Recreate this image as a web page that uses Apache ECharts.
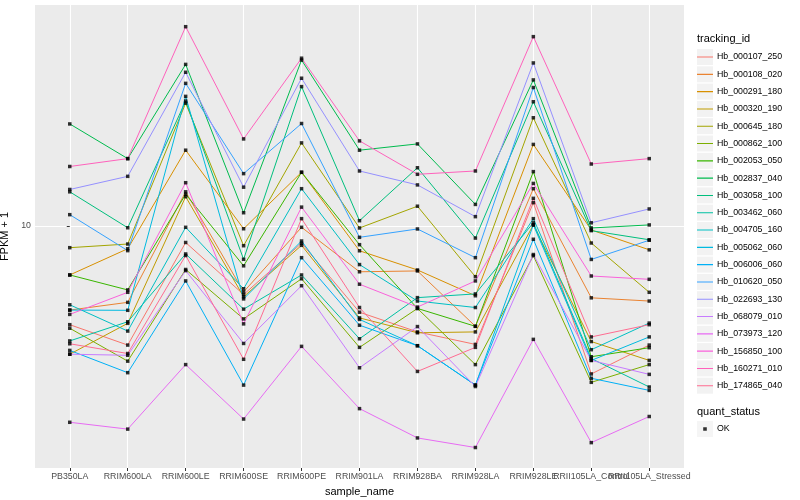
<!DOCTYPE html>
<html><head><meta charset="utf-8">
<script src="https://cdn.jsdelivr.net/npm/echarts@6/dist/echarts.min.js"></script>
<style>html,body{margin:0;padding:0;background:#fff}#c{width:800px;height:500px}</style>
</head><body><div id="c"></div>
<script>
const categories = ['PB350LA','RRIM600LA','RRIM600LE','RRIM600SE','RRIM600PE','RRIM901LA','RRIM928BA','RRIM928LA','RRIM928LE','RRII105LA_Control','RRII105LA_Stressed'];
const yTicks = [10];
const Hb_000107_250 = [4.03, 3.34, 8.59, 5.32, 8.53, 4.52, 3.77, 3.36, 12.4, 2.56, 3.34];
const Hb_000108_020 = [4.61, 4.95, 13.7, 5.45, 9.88, 6.56, 6.61, 3.97, 14.1, 5.16, 5.01];
const Hb_000291_180 = [6.37, 8.11, 20.1, 9.75, 16.4, 7.96, 6.67, 5.26, 21.2, 9.64, 8.03];
const Hb_000320_190 = [3.07, 4.08, 13.1, 5.21, 8.37, 4.29, 3.74, 3.77, 10.1, 3.45, 2.90];
const Hb_000645_180 = [8.19, 8.47, 31.0, 8.34, 21.5, 9.82, 12.0, 6.27, 27.1, 8.55, 5.43];
const Hb_000862_100 = [3.90, 2.88, 6.70, 4.25, 6.15, 3.27, 4.68, 2.79, 7.61, 2.37, 2.79];
const Hb_002053_050 = [6.37, 5.55, 13.4, 6.93, 16.4, 8.42, 4.68, 3.97, 16.5, 3.00, 3.26];
const Hb_002837_040 = [25.6, 18.6, 44.3, 11.3, 46.1, 20.1, 21.3, 12.2, 38.4, 9.82, 10.1];
const Hb_003058_100 = [13.7, 9.84, 31.6, 7.36, 36.1, 10.5, 17.1, 8.95, 31.4, 9.58, 8.81];
const Hb_003462_060 = [3.47, 4.14, 7.73, 4.65, 6.37, 3.54, 5.17, 5.35, 10.3, 2.95, 2.27];
const Hb_004705_160 = [4.84, 3.80, 9.88, 5.61, 14.1, 7.01, 5.01, 4.72, 10.7, 3.20, 4.09];
const Hb_005062_060 = [4.61, 4.60, 33.0, 5.11, 8.71, 4.23, 3.32, 2.31, 10.1, 2.90, 3.60];
const Hb_006006_060 = [3.18, 2.59, 6.03, 2.31, 7.47, 4.01, 3.32, 2.31, 8.85, 2.46, 2.20];
const Hb_010620_050 = [11.1, 7.97, 37.2, 16.2, 25.7, 9.01, 9.73, 7.47, 35.8, 7.35, 8.77];
const Hb_022693_130 = [14.0, 15.8, 41.2, 14.3, 39.0, 16.6, 14.6, 10.9, 44.9, 10.3, 11.7];
const Hb_068079_010 = [3.07, 3.04, 6.63, 3.39, 5.77, 2.71, 3.96, 2.28, 7.69, 2.90, 2.55];
const Hb_073973_120 = [1.64, 1.54, 2.79, 1.69, 3.30, 1.86, 1.42, 1.30, 3.52, 1.36, 1.73];
const Hb_156850_100 = [4.43, 5.43, 14.9, 4.06, 11.9, 5.85, 4.74, 6.03, 14.8, 6.31, 6.12];
const Hb_160271_010 = [17.3, 18.6, 62.7, 22.3, 46.9, 21.9, 16.1, 16.6, 57.2, 17.7, 18.6];
const Hb_174865_040 = [3.38, 3.09, 7.62, 2.93, 10.7, 4.72, 2.62, 3.27, 12.9, 3.60, 4.03];

const trackingIds = ['Hb_000107_250','Hb_000108_020','Hb_000291_180','Hb_000320_190','Hb_000645_180','Hb_000862_100','Hb_002053_050','Hb_002837_040','Hb_003058_100','Hb_003462_060','Hb_004705_160','Hb_005062_060','Hb_006006_060','Hb_010620_050','Hb_022693_130','Hb_068079_010','Hb_073973_120','Hb_156850_100','Hb_160271_010','Hb_174865_040'];
const seriesValues = [Hb_000107_250,Hb_000108_020,Hb_000291_180,Hb_000320_190,Hb_000645_180,Hb_000862_100,Hb_002053_050,Hb_002837_040,Hb_003058_100,Hb_003462_060,Hb_004705_160,Hb_005062_060,Hb_006006_060,Hb_010620_050,Hb_022693_130,Hb_068079_010,Hb_073973_120,Hb_156850_100,Hb_160271_010,Hb_174865_040];
const quantStatus = ['OK'];

const colors = ['#F8766D','#EA8331','#D89000','#C09B00','#A3A500','#7CAE00','#39B600','#00BB4E','#00BF7D','#00C1A3','#00BFC4','#00BAE0','#00B0F6','#35A2FF','#9590FF','#C77CFF','#E76BF3','#FA62DB','#FF62BC','#FF6C91'];
const FONT = '"Liberation Sans", Arial, sans-serif';

const chart = echarts.init(document.getElementById('c'), null, {renderer: 'canvas'});

const series = trackingIds.map((name, k) => ({
  name: name,
  type: 'line',
  data: seriesValues[k].map((v, i) => [i, v]),
  showSymbol: false,
  symbol: 'none',
  lineStyle: {width: 1, color: colors[k]},
  itemStyle: {color: colors[k]},
  z: 2,
  silent: true,
  animation: false
}));
const points = [];
seriesValues.forEach(arr => arr.forEach((v, i) => points.push([i, v])));
series.push({
  name: quantStatus[0],
  type: 'scatter',
  data: points,
  symbol: 'rect',
  symbolSize: 3.5,
  itemStyle: {color: '#000'},
  z: 3,
  silent: true,
  animation: false
});

const lineIcon = 'path://M0,0 L0.01,0 Z M0,7.5 L16,7.5 L16,8.6 L0,8.6 Z M0,16 L0.01,16 Z';
const dotIcon = 'path://M0,0 L0.01,0 Z M6.2,6.2 L9.8,6.2 L9.8,9.8 L6.2,9.8 Z M16,16 L15.99,16 Z';

const legendBase = {orient: 'vertical', left: 697, itemWidth: 16, itemHeight: 16, itemGap: 1.3, selectedMode: false, padding: 0};
const allIdx = categories.map((c, i) => i);
const labelStyle = {fontSize: 8.8, color: '#4D4D4D', fontFamily: FONT, margin: 4, hideOverlap: false, showMinLabel: true, showMaxLabel: true, formatter: v => categories[Math.round(v)]};

chart.setOption({
  animation: false,
  backgroundColor: '#fff',
  title: [
    {text: 'tracking_id', left: 697, top: 33, padding: 0, textStyle: {fontSize: 11, fontWeight: 'normal', color: '#000', fontFamily: FONT}},
    {text: 'quant_status', left: 697, top: 406, padding: 0, textStyle: {fontSize: 11, fontWeight: 'normal', color: '#000', fontFamily: FONT}}
  ],
  grid: {left: 35, right: 116, top: 5, bottom: 32, show: true, backgroundColor: '#EBEBEB', borderWidth: 0, containLabel: false, outerBoundsMode: 'none'},
  legend: [
    Object.assign({}, legendBase, {top: 49, z: 1, icon: 'rect',
      data: trackingIds.map(n => ({name: n, itemStyle: {color: '#F2F2F2'}})),
      formatter: () => '', textStyle: {fontSize: 8.8, fontFamily: FONT}}),
    Object.assign({}, legendBase, {top: 49, z: 2, icon: lineIcon,
      data: trackingIds.map((n, k) => ({name: n, itemStyle: {color: colors[k]}})),
      textStyle: {fontSize: 8.8, color: '#000', fontFamily: FONT, padding: [0, 0, 0, -1]}}),
    Object.assign({}, legendBase, {top: 421, z: 1, icon: 'rect',
      data: quantStatus.map(n => ({name: n, itemStyle: {color: '#F2F2F2'}})),
      formatter: () => '', textStyle: {fontSize: 8.8, fontFamily: FONT}}),
    Object.assign({}, legendBase, {top: 421, z: 2, icon: dotIcon,
      data: quantStatus.map(n => ({name: n, itemStyle: {color: '#000'}})),
      textStyle: {fontSize: 8.8, color: '#000', fontFamily: FONT, padding: [0, 0, 0, -1]}})
  ],
  xAxis: [{
    type: 'value', min: -0.6, max: 10.6,
    name: 'sample_name', nameLocation: 'middle', nameGap: 18,
    nameTextStyle: {fontSize: 11, color: '#000', fontFamily: FONT},
    axisLine: {show: false},
    axisTick: {show: true, length: 3, customValues: allIdx, lineStyle: {color: '#333', width: 1}},
    axisLabel: Object.assign({show: true, customValues: allIdx.filter(i => i % 2 === 0)}, labelStyle),
    splitLine: {show: true, lineStyle: {color: '#fff', width: 1.1}}
  }, {
    type: 'value', min: -0.6, max: 10.6, position: 'bottom', gridIndex: 0,
    axisLine: {show: false},
    axisTick: {show: false, customValues: allIdx.filter(i => i % 2 === 1)},
    axisLabel: Object.assign({show: true, customValues: allIdx.filter(i => i % 2 === 1)}, labelStyle),
    splitLine: {show: false}
  }],
  yAxis: {
    type: 'log', logBase: 10, min: 1.0765, max: 76.56,
    name: 'FPKM + 1', nameLocation: 'middle', nameGap: 23, nameRotate: 90,
    nameTextStyle: {fontSize: 11, color: '#000', fontFamily: FONT},
    axisLine: {show: false},
    axisTick: {show: true, length: 3, customValues: yTicks, lineStyle: {color: '#333', width: 1}},
    axisLabel: {show: true, customValues: yTicks, fontSize: 8.8, color: '#4D4D4D', fontFamily: FONT, margin: 4},
    splitLine: {show: true, lineStyle: {color: '#fff', width: 1.1}},
    minorSplitLine: {show: false}
  },
  series: series
});
</script></body></html>
